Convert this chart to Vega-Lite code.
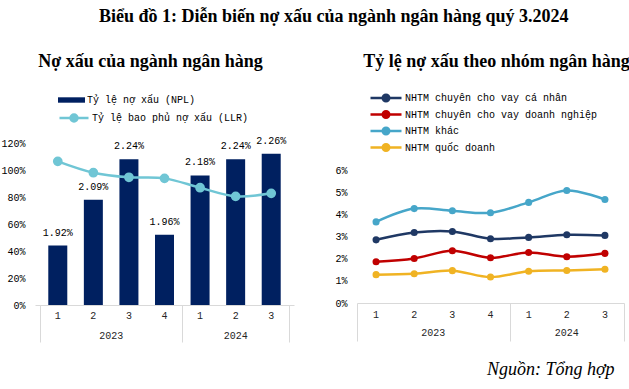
{
  "$schema": "https://vega.github.io/schema/vega-lite/v6.json",
  "padding": {"left": 0, "top": 8, "right": 0, "bottom": 0},
  "background": "white",
  "title": {
    "text": "Biểu đồ 1: Diễn biến nợ xấu của ngành ngân hàng quý 3.2024",
    "font": "Liberation Serif",
    "fontSize": 18,
    "fontWeight": "bold",
    "color": "#000000",
    "anchor": "start",
    "dx": 98,
    "offset": 27
  },
  "resolve": {"legend": {"color": "independent", "fill": "independent", "stroke": "independent"}},
  "datasets": {
    "periods": [
      {"idx": 1, "quarter": "1", "year": "2023", "npl": 0.0192, "llr": 1.064},
      {"idx": 2, "quarter": "2", "year": "2023", "npl": 0.0209, "llr": 0.98},
      {"idx": 3, "quarter": "3", "year": "2023", "npl": 0.0224, "llr": 0.946},
      {"idx": 4, "quarter": "4", "year": "2023", "npl": 0.0196, "llr": 0.938},
      {"idx": 5, "quarter": "1", "year": "2024", "npl": 0.0218, "llr": 0.869},
      {"idx": 6, "quarter": "2", "year": "2024", "npl": 0.0224, "llr": 0.805},
      {"idx": 7, "quarter": "3", "year": "2024", "npl": 0.0226, "llr": 0.827}
    ],
    "groups": [
      {"idx": 1, "group": "NHTM chuyên cho vay cá nhân", "rate": 0.0285},
      {"idx": 2, "group": "NHTM chuyên cho vay cá nhân", "rate": 0.0318},
      {"idx": 3, "group": "NHTM chuyên cho vay cá nhân", "rate": 0.0323},
      {"idx": 4, "group": "NHTM chuyên cho vay cá nhân", "rate": 0.029},
      {"idx": 5, "group": "NHTM chuyên cho vay cá nhân", "rate": 0.0296},
      {"idx": 6, "group": "NHTM chuyên cho vay cá nhân", "rate": 0.0308},
      {"idx": 7, "group": "NHTM chuyên cho vay cá nhân", "rate": 0.0305},
      {"idx": 1, "group": "NHTM chuyên cho vay doanh nghiệp", "rate": 0.0186},
      {"idx": 2, "group": "NHTM chuyên cho vay doanh nghiệp", "rate": 0.0201},
      {"idx": 3, "group": "NHTM chuyên cho vay doanh nghiệp", "rate": 0.0236},
      {"idx": 4, "group": "NHTM chuyên cho vay doanh nghiệp", "rate": 0.0204},
      {"idx": 5, "group": "NHTM chuyên cho vay doanh nghiệp", "rate": 0.0228},
      {"idx": 6, "group": "NHTM chuyên cho vay doanh nghiệp", "rate": 0.0209},
      {"idx": 7, "group": "NHTM chuyên cho vay doanh nghiệp", "rate": 0.0224},
      {"idx": 1, "group": "NHTM khác", "rate": 0.0366},
      {"idx": 2, "group": "NHTM khác", "rate": 0.0426},
      {"idx": 3, "group": "NHTM khác", "rate": 0.0416},
      {"idx": 4, "group": "NHTM khác", "rate": 0.0407},
      {"idx": 5, "group": "NHTM khác", "rate": 0.0454},
      {"idx": 6, "group": "NHTM khác", "rate": 0.0508},
      {"idx": 7, "group": "NHTM khác", "rate": 0.0467},
      {"idx": 1, "group": "NHTM quốc doanh", "rate": 0.0128},
      {"idx": 2, "group": "NHTM quốc doanh", "rate": 0.0132},
      {"idx": 3, "group": "NHTM quốc doanh", "rate": 0.0146},
      {"idx": 4, "group": "NHTM quốc doanh", "rate": 0.0117},
      {"idx": 5, "group": "NHTM quốc doanh", "rate": 0.0143},
      {"idx": 6, "group": "NHTM quốc doanh", "rate": 0.0147},
      {"idx": 7, "group": "NHTM quốc doanh", "rate": 0.0152}
    ]
  },
  "spacing": 40,
  "hconcat": [
    {
      "width": 259,
      "height": 162,
      "title": {
        "text": "Nợ xấu của ngành ngân hàng",
        "font": "Liberation Serif",
        "fontSize": 18,
        "fontWeight": "bold",
        "color": "#000000",
        "anchor": "middle",
        "dx": -14,
        "offset": 23
      },
      "resolve": {"scale": {"y": "independent"}},
      "layer": [
        {
          "data": {"name": "periods"},
          "layer": [
            {
              "mark": {"type": "bar", "size": 19},
              "encoding": {
                "x": {"field": "idx", "type": "quantitative", "scale": {"domain": [0.5, 7.5], "nice": false, "zero": false},
                  "axis": {"values": [0.5, 4.5, 7.5], "tickCount": 10, "labels": false, "ticks": true, "tickSize": 37, "tickColor": "#d9d9d9", "domainColor": "#d9d9d9", "grid": false, "title": null}},
                "y": {"field": "npl", "type": "quantitative", "scale": {"domain": [0.017, 0.023], "nice": false, "zero": false}, "axis": null},
                "y2": {"datum": 0.017},
                "fill": {"datum": "Tỷ lệ nợ xấu (NPL)", "type": "nominal",
                  "scale": {"range": ["#002060"]},
                  "legend": {
                    "orient": "none", "legendX": 23, "legendY": -49, "title": null, "padding": 0,
                    "symbolType": "M-1,-0.2H1V0.2H-1Z", "symbolSize": 729, "symbolStrokeWidth": 0,
                    "clipHeight": 12, "labelOffset": 2, "labelLimit": 400,
                    "labelFont": "Liberation Mono", "labelFontSize": 10, "labelColor": "#000000"
                  }}
              }
            },
            {
              "mark": {"type": "text", "baseline": "middle", "dy": -13, "font": "Liberation Mono", "fontSize": 10, "color": "#000000"},
              "encoding": {
                "x": {"field": "idx", "type": "quantitative"},
                "y": {"field": "npl", "type": "quantitative", "scale": {"domain": [0.017, 0.023], "nice": false, "zero": false}, "axis": null},
                "text": {"field": "npl", "type": "quantitative", "format": ".2%"}
              }
            }
          ]
        },
        {
          "data": {"name": "periods"},
          "layer": [
            {
              "mark": {"type": "line", "interpolate": "catmull-rom", "strokeWidth": 2.5,
                "point": {"filled": true, "size": 60, "color": "#70c6d5"}},
              "encoding": {
                "x": {"field": "idx", "type": "quantitative"},
                "y": {"field": "llr", "type": "quantitative", "scale": {"domain": [0, 1.2], "nice": false},
                  "axis": {"values": [0, 0.2, 0.4, 0.6, 0.8, 1.0, 1.2], "tickCount": 10, "format": ".0%", "grid": false, "domain": false, "ticks": false, "tickSize": 0, "labelPadding": 10, "labelOverlap": false,
                    "labelFont": "Liberation Mono", "labelFontSize": 10, "labelColor": "#000000", "title": null}},
                "stroke": {"datum": "Tỷ lệ bao phủ nợ xấu (LLR)", "type": "nominal",
                  "scale": {"range": ["#70c6d5"]},
                  "legend": {
                    "orient": "none", "legendX": 23, "legendY": -31, "title": null, "padding": 0,
                    "symbolType": "M-1,0H1M-0.24,0A0.24,0.24,0,1,1,0.24,0A0.24,0.24,0,1,1,-0.24,0",
                    "symbolSize": 841, "symbolStrokeWidth": 2.5, "symbolFillColor": "#70c6d5",
                    "clipHeight": 12, "labelOffset": 2, "labelLimit": 400,
                    "labelFont": "Liberation Mono", "labelFontSize": 10, "labelColor": "#000000",
                    "encode": {"symbols": {"update": {"fill": {"value": "#70c6d5"}, "stroke": {"value": "#70c6d5"}}}}
                  }}
              }
            },
            {
              "mark": {"type": "text", "baseline": "middle", "dy": 11, "font": "Liberation Mono", "fontSize": 10, "color": "#262626"},
              "encoding": {
                "x": {"field": "idx", "type": "quantitative"},
                "y": {"datum": 0},
                "text": {"field": "quarter", "type": "nominal"}
              }
            },
            {
              "mark": {"type": "text", "baseline": "middle", "dy": 31, "font": "Liberation Mono", "fontSize": 10, "color": "#262626"},
              "encoding": {
                "x": {"aggregate": "mean", "field": "idx", "type": "quantitative"},
                "y": {"datum": 0},
                "text": {"field": "year", "type": "nominal"}
              }
            }
          ]
        }
      ]
    },
    {
      "width": 267,
      "height": 160,
      "title": {
        "text": "Tỷ lệ nợ xấu theo nhóm ngân hàng",
        "font": "Liberation Serif",
        "fontSize": 18,
        "fontWeight": "bold",
        "color": "#000000",
        "anchor": "middle",
        "dx": 6,
        "offset": 21
      },
      "layer": [
        {
          "data": {"name": "groups"},
          "mark": {"type": "line", "interpolate": "catmull-rom", "strokeWidth": 2.5, "point": {"filled": true, "size": 50}},
          "encoding": {
            "x": {"field": "idx", "type": "quantitative", "scale": {"domain": [0.5, 7.5], "nice": false, "zero": false},
              "axis": {"values": [0.5, 4.5, 7.5], "tickCount": 10, "labels": false, "ticks": true, "tickSize": 38, "tickColor": "#d9d9d9", "domainColor": "#d9d9d9", "grid": false,
                "title": "Nguồn: Tổng hợp", "titleFont": "Liberation Serif", "titleFontSize": 18, "titleFontStyle": "italic", "titleFontWeight": "normal",
                "titleColor": "#000000", "titleAnchor": "end", "titleAlign": "right", "titleX": 257, "titlePadding": 19}},
            "y": {"field": "rate", "type": "quantitative", "scale": {"domain": [0, 0.0722], "nice": false},
              "axis": {"values": [0, 0.01, 0.02, 0.03, 0.04, 0.05, 0.06], "tickCount": 10, "format": ".0%", "grid": false, "domain": false, "ticks": false, "tickSize": 0, "labelPadding": 10, "labelOverlap": false,
                "labelFont": "Liberation Mono", "labelFontSize": 10, "labelColor": "#000000", "title": null}},
            "color": {"field": "group", "type": "nominal",
              "scale": {"domain": ["NHTM chuyên cho vay cá nhân", "NHTM chuyên cho vay doanh nghiệp", "NHTM khác", "NHTM quốc doanh"],
                "range": ["#1f3864", "#c00000", "#46a6c9", "#f0b323"]},
              "legend": {
                "orient": "none", "legendX": 12, "legendY": -51, "title": null, "padding": 0,
                "symbolType": "M-1,0H1M-0.21,0A0.21,0.21,0,1,1,0.21,0A0.21,0.21,0,1,1,-0.21,0",
                "symbolSize": 961, "symbolStrokeWidth": 2.5,
                "clipHeight": 12, "rowPadding": 4.5, "labelOffset": 2, "labelLimit": 400,
                "labelFont": "Liberation Mono", "labelFontSize": 10, "labelColor": "#000000",
                "encode": {"symbols": {"update": {"fill": {"scale": "color", "field": "value"}, "stroke": {"scale": "color", "field": "value"}}}}
              }}
          }
        },
        {
          "data": {"name": "periods"},
          "mark": {"type": "text", "baseline": "middle", "dy": 12, "font": "Liberation Mono", "fontSize": 10, "color": "#262626"},
          "encoding": {
            "x": {"field": "idx", "type": "quantitative"},
            "y": {"datum": 0},
            "text": {"field": "quarter", "type": "nominal"}
          }
        },
        {
          "data": {"name": "periods"},
          "mark": {"type": "text", "baseline": "middle", "dy": 30, "font": "Liberation Mono", "fontSize": 10, "color": "#262626"},
          "encoding": {
            "x": {"aggregate": "mean", "field": "idx", "type": "quantitative"},
            "y": {"datum": 0},
            "text": {"field": "year", "type": "nominal"}
          }
        }
      ]
    }
  ],
  "config": {
    "view": {"stroke": null},
    "font": "Liberation Mono"
  }
}
